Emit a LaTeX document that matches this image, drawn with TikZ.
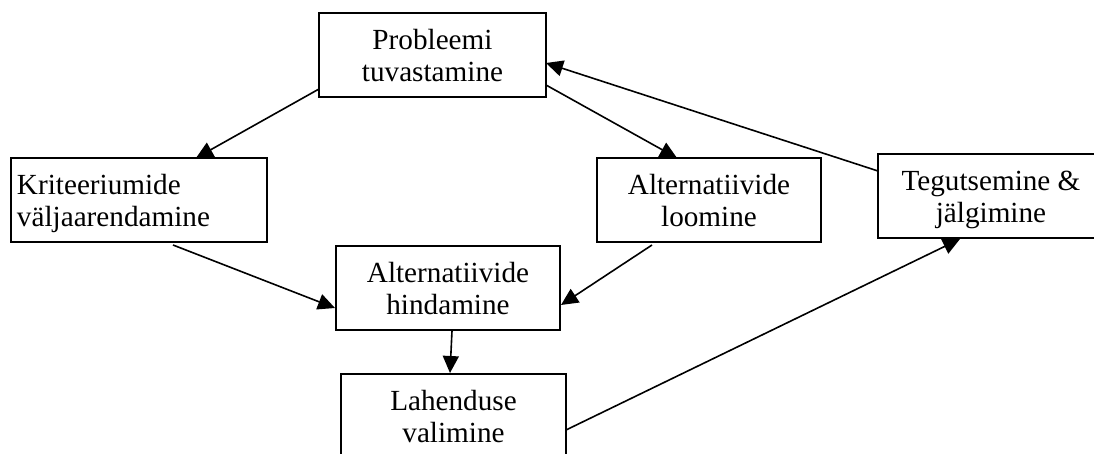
\documentclass[tikz,border=0pt]{standalone}
\usepackage{fontspec}
\setmainfont{Liberation Serif}
\usetikzlibrary{arrows.meta,calc}
\begin{document}
\begin{tikzpicture}[x=0.5pt,y=-0.5pt,
  box/.style={draw=black,line width=1pt,fill=white,inner sep=0pt,outer sep=0pt,minimum height=42pt},
  txt/.style={inner sep=0pt,outer sep=0pt,anchor=base,font=\fontsize{14.6pt}{16pt}\selectfont},
  txtl/.style={txt,anchor=base west},
  conn/.style={draw=black,line width=0.8pt,-{Triangle[length=8.5pt,width=8pt]}}]
\useasboundingbox (0,0) rectangle (1094,454);
% boxes
\node[box,minimum width=113.5pt] (p) at (432.5,55) {};
\node[box,minimum width=128pt] (k) at (139,200) {};
\node[box,minimum width=112pt] (l) at (709,200) {};
\node[box,minimum width=113pt] (t) at (991,196) {};
\node[box,minimum width=112pt] (h) at (448,288) {};
\node[box,minimum width=112.5pt] (s) at (453.5,416) {};
% texts
\node[txt] (p1) at (432.5,50) {Probleemi};
\node[txt] (p2) at (432.5,82) {tuvastamine};
\node[txtl] (k1) at (17,195) {Kriteeriumide};
\node[txtl] (k2) at (17,227) {väljaarendamine};
\node[txt] (l1) at (709,195) {Alternatiivide};
\node[txt] (l2) at (709,227) {loomine};
\node[txt] (t1) at (991,191) {Tegutsemine \&};
\node[txt] (t2) at (991,223) {jälgimine};
\node[txt] (h1) at (448,283) {Alternatiivide};
\node[txt] (h2) at (448,315) {hindamine};
\node[txt] (s1) at (453.5,411) {Lahenduse};
\node[txt] (s2) at (453.5,443) {valimine};
% connectors
\draw[conn] ($(p.south west)+(0,-8)$) -- ($(k.north west)+(185,0)$);
\draw[conn] ($(p.south east)+(0,-12)$) -- ($(l.north west)+(80,0)$);
\draw[conn] ($(t.north west)+(0,17)$) -- ($(p.north east)+(0,50)$);
\draw[conn] ($(k.south west)+(162,3)$) -- ($(h.north west)+(-1,62)$);
\draw[conn] ($(l.south west)+(55,3)$) -- ($(h.north east)+(1,59)$);
\draw[conn] ($(h.south west)+(116,1)$) -- ($(s.north west)+(109,-1)$);
\draw[conn] ($(s.north east)+(0,56)$) -- ($(t.south west)+(82,1)$);
\end{tikzpicture}
\end{document}
